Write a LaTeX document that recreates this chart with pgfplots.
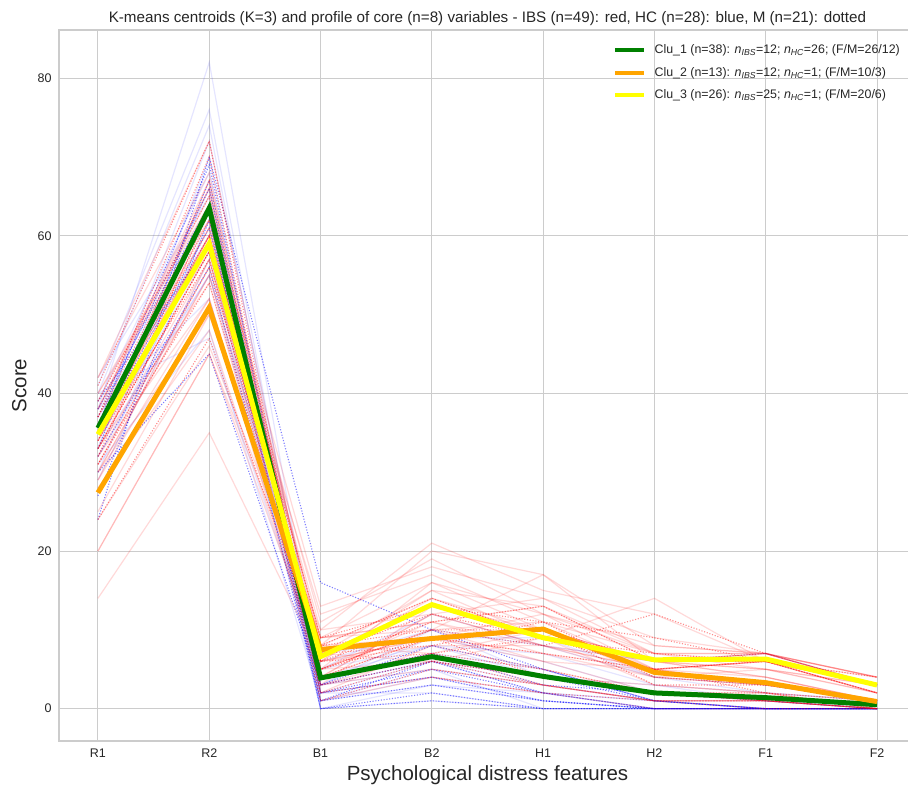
\documentclass[border=0pt]{standalone}
\usepackage{pgfplots}
\pgfplotsset{compat=1.18}
\usepackage{fontspec}
\setmainfont{Liberation Sans}
\definecolor{gridc}{HTML}{CCCCCC}
\definecolor{tickc}{HTML}{262626}
\definecolor{mplgreen}{HTML}{008000}
\definecolor{mplorange}{HTML}{FFA500}
\definecolor{mplyellow}{HTML}{FFFF00}
\pgfplotsset{
  ibs/.style={red, opacity=0.15, line width=1.2pt, forget plot},
  ibsm/.style={red, opacity=0.45, line width=1.1pt, dash pattern=on 1.1pt off 1.7pt, forget plot},
  hc/.style={blue, opacity=0.10, line width=1.2pt, forget plot},
  hcm/.style={blue, opacity=0.5, line width=1.1pt, dash pattern=on 1.1pt off 1.7pt, forget plot},
}
\begin{document}
\begin{tikzpicture}
\useasboundingbox (-59pt,-44pt) rectangle (849pt,741pt);
\clip (-59pt,-44pt) rectangle (849pt,741pt);
\begin{axis}[
  at={(0pt,0pt)}, anchor=south west,
  scale only axis, width=857pt, height=711pt,
  xmin=-0.35, xmax=7.35, ymin=-4.1, ymax=86.1,
  xtick={0,...,7}, xticklabels={R1,R2,B1,B2,H1,H2,F1,F2},
  ytick={0,20,40,60,80},
  major tick length=0pt,
  grid=major, major grid style={gridc, line width=1pt},
  axis line style={gridc, line width=1.3pt},
  tick label style={font=\fontsize{12.5}{14}\selectfont, color=tickc},
  /pgf/number format/assume math mode=true,
  xticklabel style={yshift=-4pt},
  yticklabel style={xshift=-4pt},
  title={K-means centroids (K=3) and profile of core (n=8) variables - IBS (n=49): red, HC (n=28): blue, M (n=21): dotted},
  title style={font=\fontsize{15.2}{17}\selectfont, color=tickc, yshift=-5pt},
  xlabel={Psychological distress features},
  ylabel={Score},
  label style={font=\fontsize{20.5}{22}\selectfont, color=tickc},
  xlabel style={yshift=-2pt},
  ylabel style={yshift=4pt},
  legend style={at={(0.986,0.985)}, anchor=north east, draw=none, fill=none,
    font=\fontsize{12.4}{14}\selectfont, text=tickc, row sep=8pt, inner sep=2pt},
  legend cell align=left,
  legend image code/.code={\draw[#1, line width=4pt] (0pt,0pt) -- (29pt,0pt); \path (35pt,0pt);},
]
% ---- HC, cluster 1 (solid, F) ----
\addplot[hc] coordinates {(0,38)(1,82)(2,3)(3,6)(4,2)(5,1)(6,0)(7,0)};
\addplot[hc] coordinates {(0,41)(1,76)(2,2)(3,4)(4,1)(5,0)(6,0)(7,0)};
\addplot[hc] coordinates {(0,40)(1,74)(2,1)(3,5)(4,3)(5,1)(6,0)(7,0)};
\addplot[hc] coordinates {(0,36)(1,72)(2,5)(3,8)(4,4)(5,2)(6,1)(7,0)};
\addplot[hc] coordinates {(0,33)(1,70)(2,0)(3,3)(4,2)(5,0)(6,0)(7,0)};
\addplot[hc] coordinates {(0,39)(1,68)(2,4)(3,7)(4,5)(5,1)(6,1)(7,0)};
\addplot[hc] coordinates {(0,35)(1,66)(2,2)(3,2)(4,0)(5,0)(6,0)(7,0)};
\addplot[hc] coordinates {(0,42)(1,65)(2,3)(3,9)(4,6)(5,2)(6,1)(7,0)};
\addplot[hc] coordinates {(0,30)(1,62)(2,1)(3,4)(4,2)(5,1)(6,0)(7,0)};
\addplot[hc] coordinates {(0,37)(1,60)(2,6)(3,10)(4,4)(5,3)(6,2)(7,1)};
\addplot[hc] coordinates {(0,34)(1,58)(2,0)(3,1)(4,0)(5,0)(6,0)(7,0)};
\addplot[hc] coordinates {(0,32)(1,55)(2,2)(3,6)(4,3)(5,1)(6,0)(7,0)};
\addplot[hc] coordinates {(0,38)(1,52)(2,4)(3,8)(4,7)(5,3)(6,1)(7,0)};
\addplot[hc] coordinates {(0,31)(1,48)(2,1)(3,3)(4,1)(5,0)(6,0)(7,0)};
\addplot[hc] coordinates {(0,40)(1,47)(2,5)(3,12)(4,8)(5,4)(6,2)(7,1)};
\addplot[hc] coordinates {(0,29)(1,57)(2,3)(3,5)(4,0)(5,0)(6,0)(7,0)};
% ---- HC, cluster 1 (dotted, M) ----
\addplot[hcm] coordinates {(0,24)(1,70)(2,16)(3,10)(4,5)(5,1)(6,0)(7,0)};
\addplot[hcm] coordinates {(0,36)(1,69)(2,2)(3,5)(4,2)(5,0)(6,0)(7,0)};
\addplot[hcm] coordinates {(0,33)(1,67)(2,1)(3,3)(4,1)(5,0)(6,0)(7,0)};
\addplot[hcm] coordinates {(0,38)(1,64)(2,3)(3,6)(4,4)(5,1)(6,0)(7,0)};
\addplot[hcm] coordinates {(0,27)(1,62)(2,0)(3,2)(4,0)(5,0)(6,0)(7,0)};
\addplot[hcm] coordinates {(0,35)(1,61)(2,4)(3,7)(4,3)(5,2)(6,1)(7,0)};
\addplot[hcm] coordinates {(0,39)(1,59)(2,2)(3,4)(4,1)(5,0)(6,0)(7,0)};
\addplot[hcm] coordinates {(0,32)(1,56)(2,1)(3,6)(4,2)(5,0)(6,0)(7,0)};
\addplot[hcm] coordinates {(0,30)(1,45)(2,3)(3,8)(4,5)(5,1)(6,0)(7,0)};
\addplot[hcm] coordinates {(0,37)(1,66)(2,0)(3,1)(4,0)(5,0)(6,0)(7,0)};
% ---- IBS, cluster 1 ----
\addplot[ibs] coordinates {(0,38)(1,66)(2,3)(3,5)(4,3)(5,1)(6,1)(7,0)};
\addplot[ibs] coordinates {(0,35)(1,64)(2,2)(3,8)(4,5)(5,2)(6,2)(7,0)};
\addplot[ibs] coordinates {(0,40)(1,62)(2,5)(3,6)(4,4)(5,3)(6,2)(7,1)};
\addplot[ibs] coordinates {(0,33)(1,60)(2,1)(3,4)(4,2)(5,0)(6,0)(7,0)};
\addplot[ibs] coordinates {(0,36)(1,58)(2,4)(3,9)(4,6)(5,2)(6,1)(7,1)};
\addplot[ibs] coordinates {(0,42)(1,68)(2,3)(3,7)(4,3)(5,1)(6,1)(7,0)};
\addplot[ibsm] coordinates {(0,37)(1,70)(2,2)(3,4)(4,2)(5,1)(6,1)(7,0)};
\addplot[ibsm] coordinates {(0,34)(1,67)(2,3)(3,6)(4,4)(5,2)(6,1)(7,0)};
\addplot[ibsm] coordinates {(0,39)(1,65)(2,1)(3,5)(4,3)(5,1)(6,0)(7,0)};
\addplot[ibsm] coordinates {(0,32)(1,63)(2,4)(3,7)(4,5)(5,2)(6,2)(7,1)};
\addplot[ibsm] coordinates {(0,36)(1,61)(2,5)(3,9)(4,4)(5,2)(6,1)(7,0)};
\addplot[ibsm] coordinates {(0,41)(1,72)(2,2)(3,6)(4,3)(5,1)(6,1)(7,0)};
% ---- cluster 2 ----
\addplot[ibs] coordinates {(0,14)(1,35)(2,6)(3,9)(4,12)(5,5)(6,3)(7,1)};
\addplot[ibs] coordinates {(0,20)(1,45)(2,9)(3,11)(4,13)(5,6)(6,4)(7,1)};
\addplot[ibs] coordinates {(0,25)(1,50)(2,8)(3,7)(4,10)(5,4)(6,3)(7,1)};
\addplot[ibs] coordinates {(0,28)(1,48)(2,5)(3,10)(4,11)(5,5)(6,4)(7,1)};
\addplot[ibs] coordinates {(0,30)(1,55)(2,7)(3,6)(4,9)(5,3)(6,2)(7,0)};
\addplot[ibs] coordinates {(0,24)(1,46)(2,10)(3,12)(4,14)(5,7)(6,5)(7,2)};
\addplot[ibs] coordinates {(0,32)(1,52)(2,6)(3,8)(4,8)(5,4)(6,3)(7,1)};
\addplot[ibs] coordinates {(0,29)(1,57)(2,8)(3,9)(4,10)(5,5)(6,3)(7,1)};
\addplot[ibs] coordinates {(0,34)(1,60)(2,9)(3,10)(4,17)(5,6)(6,4)(7,1)};
\addplot[ibsm] coordinates {(0,24)(1,47)(2,7)(3,8)(4,11)(5,4)(6,3)(7,1)};
\addplot[ibsm] coordinates {(0,31)(1,54)(2,6)(3,7)(4,9)(5,5)(6,2)(7,0)};
\addplot[ibsm] coordinates {(0,33)(1,58)(2,8)(3,10)(4,10)(5,3)(6,3)(7,1)};
\addplot[hc] coordinates {(0,33)(1,55)(2,7)(3,9)(4,9)(5,4)(6,3)(7,1)};
% ---- cluster 3 ----
\addplot[ibs] coordinates {(0,35)(1,60)(2,10)(3,21)(4,15)(5,12)(6,6)(7,3)};
\addplot[ibs] coordinates {(0,38)(1,65)(2,8)(3,20)(4,17)(5,8)(6,7)(7,4)};
\addplot[ibs] coordinates {(0,30)(1,55)(2,5)(3,16)(4,10)(5,6)(6,6)(7,3)};
\addplot[ibs] coordinates {(0,36)(1,62)(2,11)(3,19)(4,12)(5,8)(6,7)(7,3)};
\addplot[ibs] coordinates {(0,33)(1,58)(2,6)(3,14)(4,9)(5,14)(6,6)(7,2)};
\addplot[ibs] coordinates {(0,40)(1,64)(2,4)(3,12)(4,8)(5,5)(6,6)(7,3)};
\addplot[ibs] coordinates {(0,32)(1,57)(2,7)(3,15)(4,13)(5,7)(6,7)(7,4)};
\addplot[ibs] coordinates {(0,37)(1,61)(2,9)(3,11)(4,7)(5,4)(6,5)(7,3)};
\addplot[ibs] coordinates {(0,29)(1,52)(2,3)(3,13)(4,9)(5,6)(6,6)(7,2)};
\addplot[ibs] coordinates {(0,34)(1,59)(2,12)(3,17)(4,11)(5,7)(6,7)(7,3)};
\addplot[ibs] coordinates {(0,39)(1,66)(2,5)(3,10)(4,6)(5,5)(6,6)(7,4)};
\addplot[ibs] coordinates {(0,31)(1,56)(2,8)(3,14)(4,10)(5,6)(6,5)(7,2)};
\addplot[ibs] coordinates {(0,36)(1,63)(2,13)(3,18)(4,14)(5,9)(6,7)(7,4)};
\addplot[ibs] coordinates {(0,35)(1,60)(2,6)(3,9)(4,7)(5,5)(6,6)(7,3)};
\addplot[ibs] coordinates {(0,33)(1,54)(2,4)(3,12)(4,8)(5,5)(6,6)(7,3)};
\addplot[ibs] coordinates {(0,38)(1,67)(2,7)(3,13)(4,10)(5,6)(6,7)(7,3)};
\addplot[ibs] coordinates {(0,30)(1,50)(2,9)(3,16)(4,12)(5,7)(6,6)(7,2)};
\addplot[ibs] coordinates {(0,20)(1,45)(2,6)(3,15)(4,9)(5,6)(6,5)(7,3)};
\addplot[ibs] coordinates {(0,42)(1,72)(2,5)(3,11)(4,8)(5,6)(6,7)(7,4)};
\addplot[ibsm] coordinates {(0,35)(1,62)(2,7)(3,12)(4,9)(5,6)(6,7)(7,3)};
\addplot[ibsm] coordinates {(0,33)(1,58)(2,6)(3,11)(4,13)(5,6)(6,6)(7,2)};
\addplot[ibsm] coordinates {(0,37)(1,64)(2,5)(3,10)(4,8)(5,12)(6,7)(7,3)};
\addplot[ibsm] coordinates {(0,31)(1,56)(2,8)(3,14)(4,9)(5,7)(6,6)(7,3)};
\addplot[ibsm] coordinates {(0,36)(1,60)(2,9)(3,13)(4,11)(5,9)(6,6)(7,4)};
\addplot[ibsm] coordinates {(0,34)(1,57)(2,4)(3,9)(4,7)(5,5)(6,6)(7,2)};
\addplot[hc] coordinates {(0,38)(1,59)(2,3)(3,10)(4,8)(5,6)(6,7)(7,3)};
% ---- centroids ----
\addplot[mplgreen, line width=5pt] coordinates {(0,35.6)(1,63.5)(2,3.9)(3,6.6)(4,4.1)(5,2.0)(6,1.4)(7,0.5)};
\addlegendentry{Clu\_1 (n=38): \textit{n}\textsubscript{\textit{IBS}}=12; \textit{n}\textsubscript{\textit{HC}}=26; (F/M=26/12)}
\addplot[mplorange, line width=5pt] coordinates {(0,27.4)(1,50.9)(2,7.5)(3,8.9)(4,10.1)(5,4.6)(6,3.3)(7,0.9)};
\addlegendentry{Clu\_2 (n=13): \textit{n}\textsubscript{\textit{IBS}}=12; \textit{n}\textsubscript{\textit{HC}}=1; (F/M=10/3)}
\addplot[mplyellow, line width=5pt] coordinates {(0,34.8)(1,59.0)(2,6.6)(3,13.2)(4,9.0)(5,6.2)(6,6.3)(7,3.0)};
\addlegendentry{Clu\_3 (n=26): \textit{n}\textsubscript{\textit{IBS}}=25; \textit{n}\textsubscript{\textit{HC}}=1; (F/M=20/6)}
\end{axis}
\end{tikzpicture}
\end{document}
